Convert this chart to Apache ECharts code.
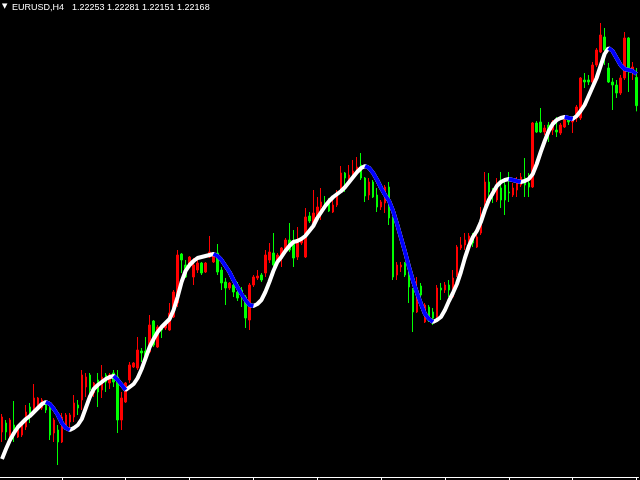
<!DOCTYPE html>
<html><head><meta charset="utf-8">
<script src="https://cdn.jsdelivr.net/npm/echarts@6/dist/echarts.min.js"></script>
<style>html,body{margin:0;padding:0;background:#000}#c{width:640px;height:480px}</style>
</head><body><div id="c"></div>
<script>
const symbolName = 'EURUSD,H4';
const opens = [1.21189,1.21216,1.21180,1.21210,1.21174,1.21180,1.21204,1.21264,1.21255,1.21264,
1.21261,1.21270,1.21264,1.21186,1.21195,1.21159,1.21210,1.21219,1.21234,1.21270,
1.21285,1.21324,1.21360,1.21306,1.21345,1.21315,1.21360,1.21336,1.21366,1.21354,
1.21225,1.21279,1.21345,1.21384,1.21381,1.21432,1.21432,1.21429,1.21522,1.21444,
1.21504,1.21501,1.21495,1.21534,1.21576,1.21723,1.21690,1.21684,1.21654,1.21675,
1.21696,1.21669,1.21714,1.21699,1.21726,1.21675,1.21639,1.21621,1.21630,1.21609,
1.21615,1.21594,1.21525,1.21630,1.21651,1.21660,1.21666,1.21705,1.21726,1.21705,
1.21714,1.21735,1.21765,1.21756,1.21714,1.21756,1.21714,1.21837,1.21816,1.21834,
1.21864,1.21876,1.21873,1.21849,1.21870,1.21921,1.21966,1.21939,1.21960,1.21969,
1.21990,1.21951,1.21900,1.21939,1.21900,1.21864,1.21876,1.21924,1.21831,1.21660,
1.21684,1.21696,1.21666,1.21615,1.21549,1.21627,1.21519,1.21564,1.21549,1.21534,
1.21621,1.21615,1.21630,1.21594,1.21660,1.21741,1.21750,1.21765,1.21780,1.21744,
1.21786,1.21879,1.21939,1.21912,1.21885,1.21921,1.21930,1.21909,1.21900,1.21915,
1.21930,1.21951,1.21936,1.21924,1.22116,1.22119,1.22089,1.22110,1.22095,1.22095,
1.22086,1.22104,1.22131,1.22119,1.22131,1.22131,1.22245,1.22245,1.22239,1.22290,
1.22329,1.22374,1.22281,1.22239,1.22230,1.22206,1.22251,1.22371,1.22275,1.22253];
const highs = [1.21243,1.21225,1.21231,1.21282,1.21210,1.21216,1.21270,1.21276,1.21333,1.21294,
1.21291,1.21282,1.21276,1.21231,1.21210,1.21246,1.21246,1.21246,1.21300,1.21285,
1.21375,1.21366,1.21366,1.21339,1.21366,1.21390,1.21366,1.21366,1.21375,1.21375,
1.21309,1.21339,1.21399,1.21399,1.21474,1.21441,1.21474,1.21540,1.21525,1.21510,
1.21510,1.21519,1.21576,1.21615,1.21735,1.21726,1.21705,1.21717,1.21711,1.21705,
1.21699,1.21699,1.21777,1.21729,1.21753,1.21684,1.21651,1.21639,1.21645,1.21639,
1.21624,1.21600,1.21636,1.21660,1.21675,1.21666,1.21735,1.21756,1.21786,1.21726,
1.21744,1.21771,1.21816,1.21795,1.21804,1.21774,1.21861,1.21849,1.21915,1.21894,
1.21921,1.21897,1.21891,1.21894,1.21915,1.21987,1.21969,1.21990,1.22005,1.22014,
1.22026,1.21954,1.21951,1.21945,1.21921,1.21885,1.21930,1.21939,1.21834,1.21699,
1.21699,1.21699,1.21669,1.21621,1.21654,1.21636,1.21576,1.21570,1.21561,1.21630,
1.21636,1.21639,1.21645,1.21675,1.21750,1.21774,1.21786,1.21786,1.21786,1.21786,
1.21864,1.21969,1.21966,1.21921,1.21951,1.21969,1.21945,1.21969,1.21936,1.21954,
1.21966,1.22011,1.21966,1.22119,1.22122,1.22161,1.22110,1.22119,1.22125,1.22134,
1.22116,1.22131,1.22134,1.22134,1.22170,1.22254,1.22266,1.22260,1.22299,1.22341,
1.22416,1.22401,1.22296,1.22251,1.22245,1.22260,1.22389,1.22374,1.22299,1.22281];
const lows = [1.21159,1.21165,1.21159,1.21159,1.21171,1.21174,1.21195,1.21216,1.21240,1.21261,
1.21255,1.21246,1.21165,1.21159,1.21090,1.21156,1.21204,1.21201,1.21219,1.21240,
1.21255,1.21294,1.21294,1.21294,1.21264,1.21291,1.21309,1.21318,1.21324,1.21186,
1.21195,1.21276,1.21336,1.21381,1.21375,1.21399,1.21405,1.21426,1.21444,1.21441,
1.21471,1.21495,1.21492,1.21531,1.21564,1.21666,1.21651,1.21681,1.21630,1.21666,
1.21660,1.21666,1.21711,1.21696,1.21660,1.21615,1.21570,1.21615,1.21594,1.21582,
1.21564,1.21501,1.21495,1.21624,1.21645,1.21639,1.21654,1.21696,1.21684,1.21699,
1.21684,1.21729,1.21729,1.21684,1.21705,1.21750,1.21711,1.21816,1.21804,1.21825,
1.21825,1.21855,1.21849,1.21846,1.21864,1.21915,1.21909,1.21930,1.21951,1.21966,
1.21945,1.21879,1.21885,1.21891,1.21849,1.21855,1.21846,1.21810,1.21645,1.21645,
1.21669,1.21654,1.21576,1.21489,1.21546,1.21585,1.21516,1.21519,1.21510,1.21531,
1.21585,1.21606,1.21594,1.21591,1.21654,1.21735,1.21735,1.21744,1.21744,1.21741,
1.21780,1.21855,1.21885,1.21876,1.21879,1.21861,1.21840,1.21879,1.21894,1.21894,
1.21924,1.21894,1.21894,1.21921,1.22086,1.22086,1.22080,1.22059,1.22080,1.22074,
1.22080,1.22101,1.22110,1.22086,1.22119,1.22125,1.22221,1.22230,1.22236,1.22284,
1.22326,1.22290,1.22236,1.22155,1.22191,1.22200,1.22245,1.22209,1.22245,1.22151];
const closes = [1.21234,1.21189,1.21225,1.21183,1.21204,1.21210,1.21249,1.21234,1.21291,1.21291,
1.21285,1.21255,1.21180,1.21225,1.21159,1.21234,1.21240,1.21240,1.21276,1.21261,
1.21360,1.21354,1.21315,1.21336,1.21309,1.21354,1.21339,1.21360,1.21339,1.21225,
1.21291,1.21336,1.21390,1.21396,1.21435,1.21426,1.21411,1.21510,1.21450,1.21504,
1.21495,1.21516,1.21546,1.21609,1.21720,1.21705,1.21654,1.21714,1.21690,1.21696,
1.21666,1.21696,1.21729,1.21726,1.21669,1.21636,1.21621,1.21636,1.21609,1.21591,
1.21600,1.21531,1.21630,1.21654,1.21657,1.21645,1.21720,1.21729,1.21690,1.21720,
1.21741,1.21765,1.21735,1.21711,1.21759,1.21765,1.21834,1.21822,1.21846,1.21864,
1.21879,1.21867,1.21852,1.21870,1.21900,1.21966,1.21951,1.21960,1.21972,1.21984,
1.21951,1.21897,1.21939,1.21894,1.21864,1.21879,1.21924,1.21831,1.21654,1.21690,
1.21690,1.21660,1.21624,1.21549,1.21606,1.21600,1.21570,1.21534,1.21531,1.21621,
1.21615,1.21630,1.21615,1.21651,1.21744,1.21750,1.21765,1.21777,1.21756,1.21774,
1.21840,1.21939,1.21909,1.21900,1.21936,1.21885,1.21885,1.21906,1.21921,1.21936,
1.21954,1.21930,1.21924,1.22116,1.22089,1.22089,1.22101,1.22089,1.22119,1.22089,
1.22110,1.22125,1.22119,1.22131,1.22164,1.22251,1.22239,1.22239,1.22290,1.22335,
1.22380,1.22335,1.22239,1.22230,1.22206,1.22251,1.22371,1.22281,1.22284,1.22168];
const trendLine = [1.21108,1.21138,1.21165,1.21186,1.21204,1.21216,1.21228,1.21237,1.21249,1.21261,
1.21273,1.21279,1.21273,1.21258,1.21240,1.21216,1.21201,1.21195,1.21201,1.21210,
1.21228,1.21261,1.21294,1.21318,1.21330,1.21339,1.21348,1.21354,1.21357,1.21345,
1.21330,1.21315,1.21324,1.21333,1.21351,1.21378,1.21411,1.21444,1.21468,1.21489,
1.21504,1.21516,1.21528,1.21555,1.21594,1.21639,1.21672,1.21690,1.21702,1.21711,
1.21714,1.21717,1.21720,1.21723,1.21717,1.21705,1.21687,1.21669,1.21645,1.21624,
1.21603,1.21585,1.21570,1.21567,1.21573,1.21585,1.21609,1.21639,1.21672,1.21699,
1.21714,1.21732,1.21747,1.21759,1.21762,1.21768,1.21777,1.21792,1.21807,1.21831,
1.21849,1.21867,1.21882,1.21894,1.21903,1.21912,1.21924,1.21939,1.21954,1.21969,
1.21981,1.21987,1.21981,1.21966,1.21945,1.21921,1.21900,1.21882,1.21852,1.21813,
1.21771,1.21729,1.21684,1.21642,1.21606,1.21573,1.21543,1.21528,1.21519,1.21525,
1.21534,1.21555,1.21582,1.21606,1.21633,1.21669,1.21711,1.21747,1.21774,1.21792,
1.21819,1.21855,1.21885,1.21906,1.21927,1.21939,1.21945,1.21948,1.21945,1.21942,
1.21939,1.21942,1.21948,1.21963,1.21993,1.22029,1.22062,1.22092,1.22113,1.22125,
1.22131,1.22134,1.22131,1.22128,1.22137,1.22152,1.22170,1.22197,1.22224,1.22251,
1.22287,1.22323,1.22341,1.22332,1.22311,1.22290,1.22278,1.22275,1.22272,1.22263];

const n = opens.length;
const categories = opens.map((_, i) => String(i));
const candleData = opens.map((o, i) => [o, closes[i], lows[i], highs[i]]);
const falling = trendLine.map((v, i) =>
  ((i > 0 && v < trendLine[i - 1]) || (i < n - 1 && trendLine[i + 1] < v)) ? v : null);
const last = n - 1;
const headerValues = [opens[last], highs[last], lows[last], closes[last]].map(v => v.toFixed(5));

const chart = echarts.init(document.getElementById('c'), null, {renderer: 'canvas'});
const txt = {color: '#ffffff', fontSize: 9, fontWeight: 'normal', fontFamily: 'Liberation Sans'};
chart.setOption({
  backgroundColor: '#000000',
  animation: false,
  title: [
    {text: '▼', left: 2, top: 3, padding: 0, textStyle: Object.assign({}, txt, {fontSize: 7, fontFamily: 'DejaVu Sans'})},
    {text: symbolName, left: 12, top: 3, padding: 0, textStyle: txt},
    {text: headerValues.join(' '), left: 72, top: 3, padding: 0, textStyle: txt}
  ],
  grid: {left: -1.5, right: 1.5, top: 0, bottom: 3},
  xAxis: {
    type: 'category', data: categories, boundaryGap: true,
    axisLine: {show: true, lineStyle: {color: '#ffffff', width: 1}},
    axisTick: {show: true, alignWithLabel: true, interval: (idx) => idx % 16 === 15, length: 3, lineStyle: {color: '#ffffff'}},
    axisLabel: {show: false}, splitLine: {show: false}
  },
  yAxis: {type: 'value', min: 1.21054, max: 1.22485, show: false, splitLine: {show: false}},
  series: [
    {type: 'candlestick', data: candleData, barWidth: 2,
     itemStyle: {color: '#ff0000', color0: '#00ff00', borderColor: '#ff0000', borderColor0: '#00ff00', borderWidth: 1}},
    {type: 'line', data: trendLine, showSymbol: false, z: 3, lineStyle: {color: '#ffffff', width: 4}},
    {type: 'line', data: falling, showSymbol: false, connectNulls: false, z: 4, lineStyle: {color: '#0000ff', width: 4}}
  ]
});
</script></body></html>
